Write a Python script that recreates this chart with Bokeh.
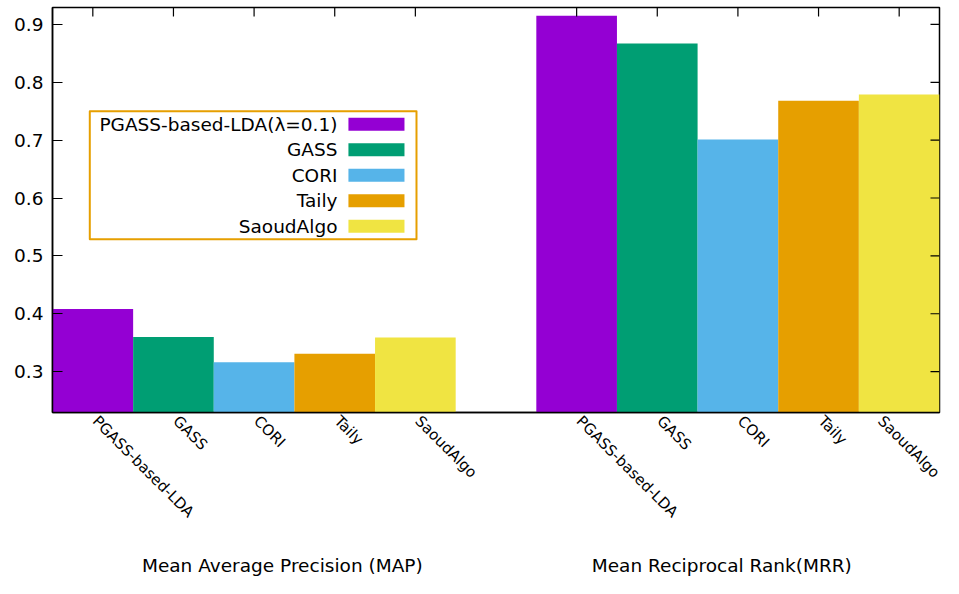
import math
from bokeh.plotting import figure
from bokeh.models import ColumnDataSource, Range1d, FixedTicker, LinearAxis
from bokeh.core.properties import value
from bokeh.embed import file_html
from bokeh.resources import INLINE

# ---- data ----
methods = ["PGASS-based-LDA", "GASS", "CORI", "Taily", "SaoudAlgo"]
legend_names = ["PGASS-based-LDA(\u03bb=0.1)", "GASS", "CORI", "Taily", "SaoudAlgo"]
groups = ["Mean Average Precision (MAP)", "Mean Reciprocal Rank(MRR)"]
map_values = [0.408, 0.360, 0.316, 0.331, 0.359]
mrr_values = [0.915, 0.867, 0.701, 0.768, 0.779]
y_ticks = [0.3, 0.4, 0.5, 0.6, 0.7, 0.8, 0.9]

# ---- style ----
colors = ["#9400D3", "#009E73", "#56B4E9", "#E69F00", "#F0E442"]
FONT = "DejaVu Sans"

n = len(methods)
gap = 1
group_vals = [map_values, mrr_values]

xs, tops, cols, labels = [], [], [], []
for g, vals in enumerate(group_vals):
    start = g * (n + gap)
    for i, v in enumerate(vals):
        xs.append(start + i + 0.5)
        tops.append(v)
        cols.append(colors[i])
        labels.append(methods[i])

x0, x1 = 0, 2 * n + gap
y0, y1 = 0.2293, 0.9293
p = figure(width=943, height=578, output_backend="svg", toolbar_location=None,
           x_range=Range1d(x0, x1), y_range=Range1d(y0, y1),
           min_border_left=52, min_border_right=4, min_border_top=7,
           min_border_bottom=165, x_axis_location=None, y_axis_location=None)
p.grid.visible = False
p.outline_line_color = "black"
p.outline_line_width = 1.5
p.background_fill_color = "white"

src = ColumnDataSource(dict(x=xs, top=tops, color=cols))
p.vbar(x="x", top="top", bottom=y0, width=1.0, fill_color="color",
       line_color=None, source=src)

# mirrored inward ticks on the top and right edges
p.ray(x=xs, y=[y1] * len(xs), length=9, length_units="screen",
      angle=-math.pi / 2, line_color="black", line_width=1.2)
p.ray(x=[x1] * len(y_ticks), y=y_ticks, length=9, length_units="screen",
      angle=math.pi, line_color="black", line_width=1.2)

left = LinearAxis(ticker=FixedTicker(ticks=y_ticks))
left.axis_line_color = "black"
left.axis_line_width = 1.5
left.major_tick_line_color = "black"
left.major_tick_line_width = 1.2
left.minor_tick_line_color = None
left.major_tick_out = 0
left.major_tick_in = 10
left.major_label_standoff = 9
left.major_label_text_font = FONT
left.major_label_text_font_size = "18.5px"
left.major_label_text_color = "black"
p.add_layout(left, "left")

# rotated method labels (anchor nudged so text runs from the bar centre)
label_shift = 0.03
label_ticks = [x + label_shift for x in xs]
bottom = LinearAxis(ticker=FixedTicker(ticks=label_ticks))
bottom.axis_line_color = "black"
bottom.axis_line_width = 1.5
bottom.major_tick_line_color = None
bottom.minor_tick_line_color = None
bottom.major_tick_out = 0
bottom.major_tick_in = 0
bottom.major_label_overrides = {x: l for x, l in zip(label_ticks, labels)}
bottom.major_label_orientation = -math.pi / 4
bottom.major_label_standoff = 6
bottom.major_label_text_font = FONT
bottom.major_label_text_font_size = "15px"
bottom.major_label_text_color = "black"
p.add_layout(bottom, "below")

# group titles as a second, line-less axis under the method labels
title_x = [2.85, 8.30]
gaxis = LinearAxis(ticker=FixedTicker(ticks=title_x))
gaxis.axis_line_color = None
gaxis.major_tick_line_color = None
gaxis.minor_tick_line_color = None
gaxis.major_tick_out = 0
gaxis.major_tick_in = 0
gaxis.major_label_overrides = {x: g for x, g in zip(title_x, groups)}
gaxis.major_label_standoff = 24
gaxis.major_label_text_font = FONT
gaxis.major_label_text_font_size = "18.5px"
gaxis.major_label_text_color = "black"
p.add_layout(gaxis, "below")

# manual legend (label left, swatch right), gnuplot style
box_l, box_r, box_t, box_b = 0.4625, 4.514, 0.750, 0.5288
p.quad(left=[box_l], right=[box_r], top=[box_t], bottom=[box_b],
       fill_color="white", line_color="#E69F00", line_width=2,
       line_join="round")
row0, row_step = 0.7276, 0.0441
ly = [row0 - i * row_step for i in range(n)]
lsrc = ColumnDataSource(dict(x=[3.534] * n, sx=[4.0175] * n, y=ly,
                             text=legend_names, color=colors))
p.text(x="x", y="y", text="text", source=lsrc, text_align="right",
       text_baseline="middle", text_font=value(FONT),
       text_font_size="18.5px", text_color="black")
p.rect(x="sx", y="y", width=0.695, height=13, height_units="screen",
       fill_color="color", line_color=None, source=lsrc)

open("out.html", "w").write(file_html(p, INLINE))
